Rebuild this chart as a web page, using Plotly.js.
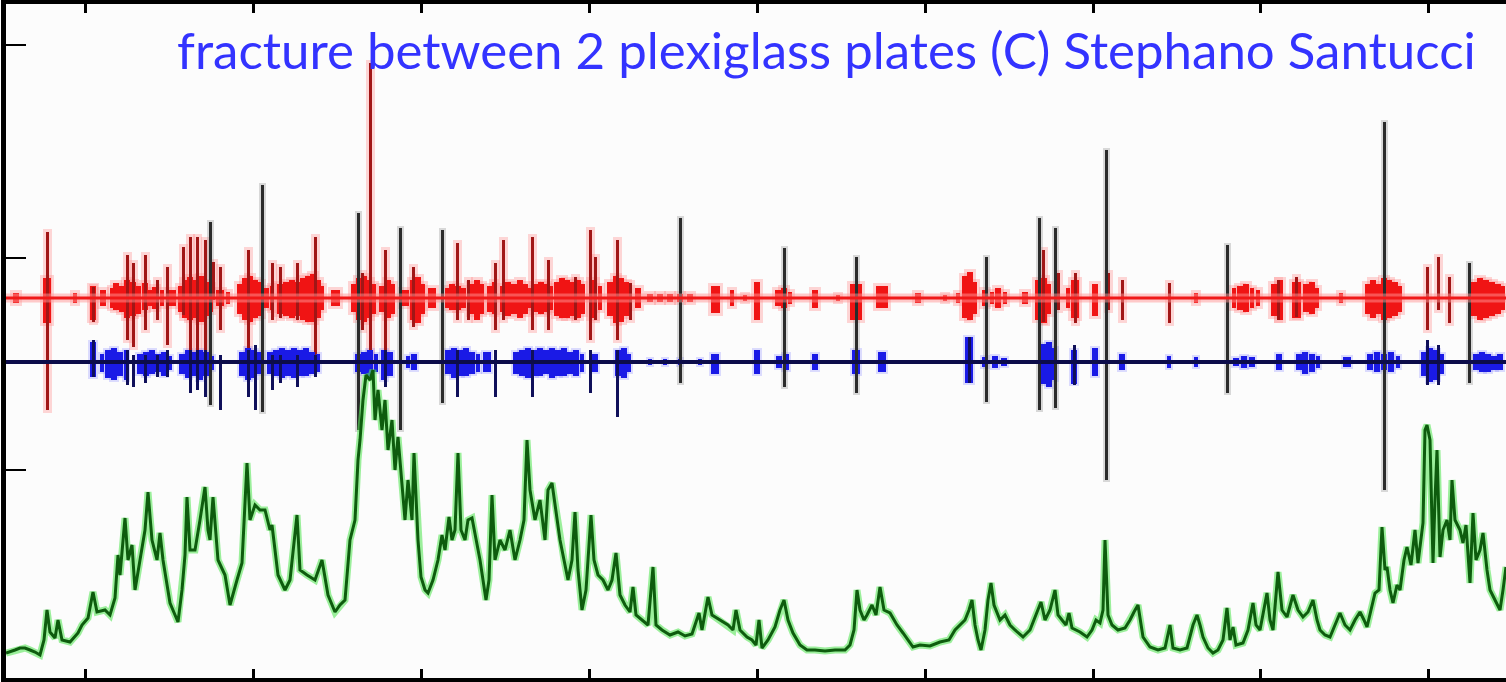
<!DOCTYPE html>
<html>
<head>
<meta charset="utf-8">
<script src="https://cdn.plot.ly/plotly-3.0.1.min.js"></script>
<style>html,body{margin:0;padding:0;background:#fff;overflow:hidden}#chart{width:1506px;height:682px}</style>
</head>
<body>
<div id="chart"></div>
<script>
// ---- data (time in samples, amplitude in arbitrary units) ----
const TITLE = "fracture between 2 plexiglass plates (C) Stephano Santucci";
const X_TICKS = [85, 253, 421, 589, 757, 925, 1093, 1260, 1428];
const Y_TICKS = [210, 422, 635];

const RED_LEVEL = 382;
const BLUE_LEVEL = 318;

// red channel: bursts
const RB_T  = [16,47,75,93,103,112,116,122,127,133,138,145,150,155,162,172,180,185,190,196,201,206,211,220,228,240,245,250,255,260,266,272,280,286,292,298,303,308,313,318,322,335,354,359,364,369,374,382,388,393,405,413,418,423,432,447,452,458,463,472,477,482,490,494,503,508,514,520,525,530,535,541,546,551,557,562,567,572,578,583,593,600,610,616,621,626,638,650,660,670,680,690,715,732,745,757,778,784,790,815,838,856,882,918,945,958,965,970,975,985,992,998,1005,1025,1038,1044,1049,1068,1075,1095,1196,1234,1240,1246,1252,1258,1274,1280,1296,1306,1312,1317,1341,1368,1373,1378,1384,1389,1395,1400,1474,1480,1486,1492,1498,1503];
const RB_HI = [387,402,387,394,390,392,397,394,400,398,394,397,390,393,390,390,394,400,403,400,404,398,395,390,388,396,402,404,400,398,392,394,396,398,400,398,402,404,406,400,394,390,396,402,404,400,396,394,400,396,390,400,403,396,392,392,396,394,392,396,400,396,394,398,394,398,396,400,396,392,396,398,396,394,398,402,400,398,400,396,400,394,398,404,402,398,392,386,386,386,386,386,394,390,385,398,390,392,388,390,385,396,394,387,385,387,404,408,398,390,388,392,388,388,400,402,396,392,400,396,387,392,394,396,392,390,396,400,398,396,398,392,387,396,400,396,402,400,398,394,398,402,400,398,396,394];
const RB_LO = [377,357,377,360,374,372,370,368,362,364,366,370,374,371,374,374,368,362,360,362,358,364,368,374,376,366,360,358,362,364,372,370,366,364,362,364,360,358,358,362,370,374,368,360,358,362,366,368,362,366,374,360,357,366,372,372,370,370,372,366,360,366,368,366,368,364,366,362,366,372,368,366,368,370,364,362,362,364,362,366,362,370,364,357,358,364,372,378,378,378,378,378,367,374,379,360,374,372,376,372,379,360,372,377,379,377,362,360,366,374,376,372,376,376,360,357,366,372,362,364,377,372,370,368,372,374,364,360,362,368,366,372,377,366,362,366,360,362,364,368,364,360,362,364,366,370];
const RB_W  = [4,5,3,4,4,3,4,4,4,4,4,4,3,4,3,5,3,4,4,4,4,4,3,5,3,4,4,4,4,4,4,3,4,4,4,4,4,4,4,4,3,6,4,4,4,4,3,4,4,3,5,4,4,3,5,3,4,4,4,4,4,3,4,3,4,4,4,4,4,3,4,4,4,3,4,4,4,4,4,3,5,3,4,4,4,4,4,4,4,4,4,4,6,3,3,4,4,4,3,4,3,8,8,4,3,3,4,4,3,4,3,4,3,4,4,4,3,3,5,4,3,3,4,4,3,3,4,4,6,4,4,3,3,4,4,4,4,4,4,3,4,4,4,4,4,3];

// red channel: large single events
const RS_T  = [47,93,127,133,145,157,167,183,190,197,205,213,220,248,272,280,297,315,362,370,385,413,457,468,495,503,532,548,575,590,595,617,630,1043,1058,1075,1108,1122,1169,1278,1296,1427,1438,1449];
const RS_HI = [448,393,425,417,425,400,413,433,443,443,440,418,413,430,417,413,417,443,407,617,430,413,437,400,417,440,443,420,403,450,423,440,397,430,407,407,407,400,397,400,403,413,423,403];
const RS_LO = [270,358,340,333,350,360,335,365,323,325,320,380,350,323,360,362,360,320,350,310,315,353,360,360,350,360,350,350,360,340,360,340,360,358,370,357,370,360,357,360,363,350,370,357];

// blue channel: bursts
const BB_T  = [93,102,108,114,120,126,140,146,152,158,164,170,182,188,194,200,206,212,242,248,254,260,270,276,282,288,294,300,306,312,318,358,364,370,376,384,390,408,414,448,454,460,466,472,478,487,516,522,528,534,540,546,552,558,564,570,576,582,595,618,624,629,650,665,680,700,715,757,779,786,815,856,882,969,985,995,1004,1043,1049,1054,1074,1095,1122,1169,1196,1236,1244,1252,1279,1299,1305,1312,1318,1347,1370,1377,1384,1391,1398,1424,1430,1436,1442,1476,1482,1488,1494,1500];
const BB_HI = [338,326,330,332,328,330,326,328,330,326,328,324,326,330,328,330,328,324,328,332,330,328,328,330,332,330,332,330,332,328,326,326,328,330,326,330,328,324,326,330,332,330,332,328,326,328,328,330,332,330,332,330,332,330,332,328,330,326,326,330,332,326,321,321,321,321,326,330,324,326,326,330,328,343,323,324,322,336,338,332,330,332,326,324,323,322,324,323,326,326,328,326,324,323,326,328,326,328,324,328,332,330,326,326,328,326,324,326];
const BB_LO = [303,308,302,300,304,300,306,304,306,308,304,310,306,302,304,300,304,310,304,300,302,306,306,304,302,304,302,304,304,306,308,308,306,304,308,300,304,312,310,306,302,304,304,306,308,308,306,304,302,304,304,306,302,304,304,306,304,308,308,304,302,308,315,315,315,315,306,306,312,310,310,306,308,297,313,312,314,296,293,300,296,304,310,312,313,314,312,313,310,310,306,308,312,313,310,308,310,308,312,304,298,300,306,310,308,308,310,310];
const BB_W  = [4,3,4,4,4,3,4,4,4,4,4,3,4,4,4,4,4,3,4,4,4,4,4,4,4,4,4,4,4,4,3,4,4,4,3,4,4,3,4,4,4,4,4,4,3,5,4,4,4,4,4,4,4,4,4,4,4,3,4,4,4,3,3,3,3,3,5,4,4,4,4,5,5,5,4,4,4,4,4,4,4,4,4,3,3,4,4,4,4,4,4,4,3,5,4,4,4,4,3,4,4,4,3,4,4,4,4,4];

// blue channel: large single events
const BS_T  = [93,127,133,145,157,167,190,197,205,220,248,255,272,280,297,315,385,457,495,532,590,617,969,1074,1427,1438];
const BS_HI = [340,330,325,325,325,330,330,330,330,325,330,335,325,325,325,325,330,330,330,330,330,330,343,335,340,335];
const BS_LO = [303,295,293,297,303,303,287,290,283,270,283,270,290,297,293,303,293,283,283,283,287,263,297,295,295,295];

// strongest events (black)
const K_T  = [210,262,358,400,442,680,784,856,986,1039,1055,1106,1227,1384,1469];
const K_HI = [458,495,467,452,450,462,432,423,423,462,452,530,435,558,417];
const K_LO = [275,268,250,250,277,297,293,287,278,270,272,200,287,190,297];

// cumulative activity (green)
const G_X = [6,10,15,20,25,30,35,40,44,47,50,55,58,62,70,78,82,88,93,97,105,110,115,118,120,125,128,132,135,140,145,148,152,157,160,163,170,178,182,185,187,190,195,200,205,208,210,213,218,225,230,237,242,247,250,255,260,265,270,272,278,285,290,297,300,307,315,322,328,335,340,345,350,355,358,360,363,366,370,373,375,378,382,385,388,392,395,398,402,405,408,412,414,418,421,425,428,433,438,442,445,449,452,455,458,461,465,468,472,476,480,486,489,492,495,500,505,510,515,520,524,527,530,535,540,545,548,552,556,560,564,568,572,575,578,582,586,591,594,598,603,608,612,616,620,625,630,633,636,642,648,653,656,662,670,678,685,692,699,702,708,712,720,728,733,736,740,747,752,756,759,762,768,775,780,784,788,793,800,807,815,825,835,845,850,854,857,860,864,867,872,876,880,884,890,897,903,908,913,920,930,940,949,955,958,965,969,972,975,978,981,985,988,991,994,1000,1005,1010,1015,1023,1030,1036,1041,1045,1050,1055,1058,1062,1066,1069,1072,1080,1087,1092,1096,1100,1103,1105,1108,1112,1118,1125,1130,1134,1138,1143,1150,1158,1165,1170,1173,1180,1187,1193,1197,1200,1203,1208,1213,1218,1223,1227,1230,1233,1236,1243,1248,1253,1256,1260,1267,1270,1273,1278,1282,1287,1293,1298,1303,1308,1313,1317,1320,1325,1330,1335,1340,1345,1350,1355,1360,1364,1367,1371,1375,1379,1382,1385,1387,1390,1393,1397,1400,1404,1407,1411,1415,1418,1421,1423,1425,1427,1430,1433,1435,1437,1440,1443,1447,1450,1452,1455,1460,1463,1466,1470,1473,1476,1480,1483,1487,1490,1495,1500,1503,1506];
const G_Y = [27,28,30,32,32,30,28,25,40,70,48,42,60,40,38,47,55,62,88,68,70,65,82,125,105,162,120,135,90,120,150,188,140,120,147,120,77,58,90,125,183,130,130,160,193,150,140,183,120,105,75,100,117,217,160,175,170,170,150,155,105,90,100,165,110,105,100,120,85,68,75,80,140,160,220,240,280,305,300,310,260,290,250,280,230,260,210,243,196,160,200,160,227,140,103,90,87,100,120,145,130,163,140,150,227,150,140,160,162,140,120,80,100,185,120,140,130,150,120,140,160,240,190,160,180,140,190,197,170,140,120,100,120,168,110,70,90,165,120,105,100,90,100,127,85,75,68,93,65,60,55,113,55,50,45,48,44,46,67,50,83,65,60,55,50,70,50,43,40,35,60,32,40,53,70,80,60,47,35,30,30,29,30,30,35,50,90,70,60,65,75,65,93,70,67,55,47,40,33,35,34,38,40,50,53,60,70,80,55,40,30,50,80,97,75,60,65,55,50,43,50,65,78,60,70,90,65,60,55,67,52,48,43,50,60,57,70,140,65,55,50,52,60,68,75,43,33,30,32,55,32,30,32,55,65,55,43,32,27,30,40,72,40,53,35,37,50,77,55,50,87,60,50,108,70,63,85,70,63,68,80,60,50,45,43,55,67,55,50,60,68,60,53,70,87,90,153,110,113,90,77,95,90,120,133,115,150,117,140,157,250,255,240,117,180,230,123,150,160,140,200,160,150,137,155,97,167,120,130,147,110,90,80,70,90,113];

// ---- build traces ----
function barTrace(t, hi, lo, w, color, pad, spread) {
  pad = pad || 0;
  spread = spread || 1;
  return {
    type: 'bar', x: t,
    base: lo.map(v => v - pad),
    y: hi.map((h, i) => h - lo[i] + 2 * pad),
    width: Array.isArray(w) ? w.map(v => v * spread + 2 * pad) : w * spread + 2 * pad,
    marker: {color: color, line: {width: 0}},
    hoverinfo: 'skip', showlegend: false
  };
}
const xr = [6, 1506];
const traces = [
  // soft halos
  barTrace(RB_T, RB_HI, RB_LO, RB_W, 'rgba(255,120,120,0.3)', 3, 1.5),
  barTrace(RS_T, RS_HI, RS_LO, 3, 'rgba(255,140,140,0.35)', 3),
  barTrace(BB_T, BB_HI, BB_LO, BB_W, 'rgba(120,120,255,0.25)', 2, 1.5),
  barTrace(K_T, K_HI, K_LO, 3, 'rgba(150,150,150,0.35)', 2),
  // red
  barTrace(RB_T, RB_HI, RB_LO, RB_W, '#f01414', 0, 1.5),
  barTrace(RS_T, RS_HI, RS_LO, 3, '#a11616'),
  // blue
  barTrace(BB_T, BB_HI, BB_LO, BB_W, '#1a1ae6', 0, 1.5),
  barTrace(BS_T, BS_HI, BS_LO, 3, '#10105a'),
  // black
  barTrace(K_T, K_HI, K_LO, 3, '#2b2b2b'),
  // baselines
  {type:'scatter', mode:'lines', x: xr, y: [RED_LEVEL, RED_LEVEL], line:{color:'rgba(255,150,150,0.5)', width:9}, hoverinfo:'skip', showlegend:false},
  {type:'scatter', mode:'lines', x: xr, y: [RED_LEVEL, RED_LEVEL], line:{color:'#f01818', width:3}, hoverinfo:'skip', showlegend:false},
  {type:'scatter', mode:'lines', x: xr, y: [BLUE_LEVEL, BLUE_LEVEL], line:{color:'#0c0c4a', width:4}, hoverinfo:'skip', showlegend:false},
  // green
  {type:'scatter', mode:'lines', x: G_X, y: G_Y, line:{color:'rgba(90,230,90,0.6)', width:7}, hoverinfo:'skip', showlegend:false},
  {type:'scatter', mode:'lines', x: G_X, y: G_Y, line:{color:'#0e5c0e', width:3}, hoverinfo:'skip', showlegend:false}
];

const layout = {
  width: 1506, height: 682,
  margin: {l: 6, r: 0, t: 4, b: 4, pad: 0},
  paper_bgcolor: '#ffffff', plot_bgcolor: '#fcfcfc',
  barmode: 'overlay', bargap: 0,
  showlegend: false,
  xaxis: {range: xr, showgrid: false, zeroline: false, showline: true, linecolor: '#000', linewidth: 5,
          mirror: 'ticks', ticks: 'inside', ticklen: 9, tickwidth: 3, tickcolor: '#000',
          tickmode: 'array', tickvals: X_TICKS, showticklabels: false, fixedrange: true},
  yaxis: {range: [2, 676], showgrid: false, zeroline: false, showline: true, linecolor: '#000', linewidth: 5,
          mirror: false, ticks: 'inside', ticklen: 20, tickwidth: 2, tickcolor: '#000',
          tickmode: 'array', tickvals: Y_TICKS, showticklabels: false, fixedrange: true},
  annotations: [{
    text: TITLE, xref: 'paper', yref: 'paper', x: 0.981, y: 0.932,
    xanchor: 'right', yanchor: 'middle', showarrow: false,
    font: {family: 'Lato, "Open Sans", sans-serif', size: 51, color: '#3333ff'}
  }]
};
Plotly.newPlot('chart', traces, layout, {displayModeBar: false, staticPlot: true});
</script>
</body>
</html>
